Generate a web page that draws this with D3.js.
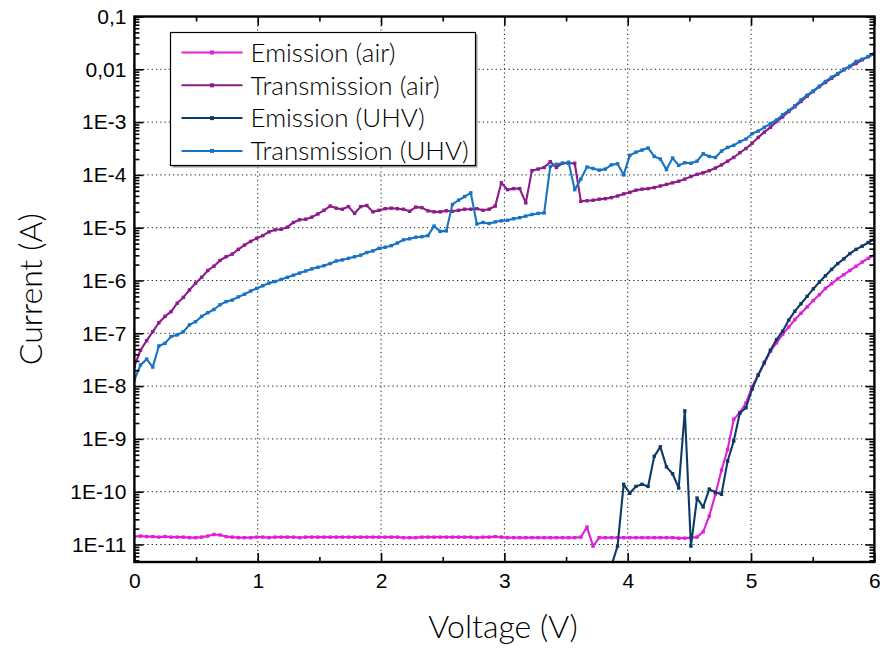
<!DOCTYPE html>
<html>
<head>
<meta charset="utf-8">
<script src="https://cdn.jsdelivr.net/npm/d3@7"></script>
<style>
  body { margin: 0; background: #fff; }
  svg { display: block; font-family: Lato, "Open Sans", sans-serif; font-weight: 300; }
</style>
</head>
<body>
<div id="chart"></div>
<script>
// sweep: one point per step, starting at 0 V
const voltageStep = 6 / 121

// currents given as log10(I / A)
const emissionAir = [
  -10.85,-10.84,-10.85,-10.85,-10.86,-10.85,-10.86,-10.86,-10.86,-10.87,
  -10.87,-10.86,-10.84,-10.81,-10.82,-10.85,-10.86,-10.87,-10.87,-10.87,
  -10.86,-10.86,-10.87,-10.86,-10.86,-10.86,-10.86,-10.87,-10.86,-10.86,
  -10.86,-10.86,-10.86,-10.86,-10.86,-10.86,-10.86,-10.86,-10.86,-10.86,
  -10.86,-10.86,-10.86,-10.86,-10.87,-10.87,-10.87,-10.86,-10.86,-10.86,
  -10.86,-10.86,-10.86,-10.86,-10.86,-10.86,-10.87,-10.86,-10.86,-10.85,
  -10.86,-10.87,-10.87,-10.87,-10.87,-10.87,-10.87,-10.87,-10.87,-10.87,
  -10.87,-10.87,-10.87,-10.86,-10.67,-11.03,-10.87,-10.87,-10.87,-10.87,
  -10.87,-10.87,-10.87,-10.87,-10.87,-10.87,-10.87,-10.87,-10.87,-10.88,
  -10.88,-10.87,-10.86,-10.76,-10.46,-10.05,-9.59,-9.20,-8.63,-8.50,
  -8.32,-8.01,-7.79,-7.57,-7.34,-7.18,-7.02,-6.88,-6.74,-6.62,
  -6.50,-6.38,-6.27,-6.15,-6.06,-5.97,-5.89,-5.81,-5.73,-5.65,
  -5.58,-5.52
]
const transmissionAir = [
  -7.62,-7.32,-7.14,-6.97,-6.80,-6.68,-6.59,-6.43,-6.32,-6.18,
  -6.05,-5.94,-5.81,-5.73,-5.62,-5.55,-5.50,-5.41,-5.33,-5.26,
  -5.20,-5.15,-5.08,-5.04,-5.03,-4.99,-4.90,-4.85,-4.84,-4.80,
  -4.74,-4.67,-4.59,-4.63,-4.65,-4.60,-4.73,-4.60,-4.58,-4.70,
  -4.67,-4.64,-4.63,-4.64,-4.65,-4.69,-4.61,-4.62,-4.68,-4.70,
  -4.70,-4.68,-4.69,-4.67,-4.65,-4.65,-4.64,-4.67,-4.65,-4.59,
  -4.15,-4.28,-4.26,-4.26,-4.53,-3.92,-3.89,-3.86,-3.75,-3.86,
  -3.78,-3.78,-3.78,-4.50,-4.49,-4.48,-4.46,-4.45,-4.43,-4.40,
  -4.36,-4.33,-4.29,-4.27,-4.26,-4.24,-4.21,-4.18,-4.15,-4.12,
  -4.08,-4.03,-3.99,-3.96,-3.92,-3.87,-3.81,-3.74,-3.67,-3.58,
  -3.50,-3.40,-3.29,-3.19,-3.10,-2.99,-2.90,-2.80,-2.71,-2.61,
  -2.51,-2.42,-2.33,-2.25,-2.17,-2.09,-2.01,-1.95,-1.89,-1.82,
  -1.76,-1.71
]
// UHV emission is below the axis until ~3.8 V
const emissionUhvStart = 77
const emissionUhv = [
  -12.5,-11.4,-11.03,-9.86,-10.03,-9.90,-9.86,-9.90,-9.33,-9.15,
  -9.53,-9.66,-9.93,-8.47,-11.03,-10.12,-10.29,-9.95,-10.01,-10.05,
  -9.42,-9.04,-8.51,-8.41,-8.06,-7.79,-7.55,-7.32,-7.12,-6.96,
  -6.75,-6.58,-6.44,-6.30,-6.16,-6.03,-5.91,-5.79,-5.68,-5.59,
  -5.49,-5.41,-5.35,-5.28,-5.22
]
const transmissionUhv = [
  -7.88,-7.60,-7.49,-7.64,-7.24,-7.19,-7.06,-7.03,-6.97,-6.84,
  -6.78,-6.68,-6.61,-6.55,-6.46,-6.40,-6.37,-6.31,-6.26,-6.20,
  -6.15,-6.10,-6.05,-6.02,-5.98,-5.94,-5.90,-5.86,-5.82,-5.78,
  -5.75,-5.72,-5.68,-5.63,-5.61,-5.58,-5.55,-5.52,-5.47,-5.44,
  -5.39,-5.37,-5.34,-5.29,-5.23,-5.21,-5.18,-5.17,-5.15,-4.97,
  -5.07,-5.06,-4.56,-4.48,-4.41,-4.34,-4.93,-4.90,-4.92,-4.89,
  -4.87,-4.86,-4.83,-4.81,-4.78,-4.75,-4.73,-4.72,-3.84,-3.80,
  -3.78,-3.76,-4.28,-4.08,-3.85,-3.88,-3.91,-3.89,-3.81,-3.79,
  -4.00,-3.63,-3.57,-3.53,-3.49,-3.65,-3.70,-3.90,-3.68,-3.82,
  -3.77,-3.78,-3.74,-3.60,-3.65,-3.67,-3.55,-3.48,-3.44,-3.37,
  -3.32,-3.22,-3.17,-3.10,-3.03,-2.96,-2.86,-2.78,-2.69,-2.58,
  -2.49,-2.41,-2.32,-2.23,-2.15,-2.08,-2.00,-1.94,-1.85,-1.81,
  -1.76,-1.71
]

const seriesNames = ["Emission (air)", "Transmission (air)", "Emission (UHV)", "Transmission (UHV)"]
const seriesColors = ["#e020d8", "#8c1b8c", "#0e3b66", "#1773c4"]

const xTicks = [0, 1, 2, 3, 4, 5, 6]
const xMinorTicks = [0.5, 1.5, 2.5, 3.5, 4.5, 5.5]
const yTicks = [1e-11, 1e-10, 1e-9, 1e-8, 1e-7, 1e-6, 1e-5, 1e-4, 1e-3, 0.01, 0.1]
const yTickLabels = ["1E-11", "1E-10", "1E-9", "1E-8", "1E-7", "1E-6", "1E-5", "1E-4", "1E-3", "0,01", "0,1"]

const width = 880
const height = 648
const plotLeft = 134.4, plotRight = 874.4, plotTop = 16.5, plotBottom = 562
const decadePx = 52.8

const x = d3.scaleLinear([0, 6], [plotLeft, plotRight])
const yMin = Math.pow(10, -11 - (plotBottom - plotTop - 10 * decadePx) / decadePx)
const y = d3.scaleLog([yMin, 0.1], [plotBottom, plotTop])

const yMinorTicks = []
for (let e = -12; e <= -2; e++) {
  for (let m = 2; m <= 9; m++) {
    const v = m * Math.pow(10, e)
    if (v >= yMin && v <= 0.1) yMinorTicks.push(v)
  }
}

const series = [
  {values: emissionAir, start: 0},
  {values: transmissionAir, start: 0},
  {values: emissionUhv, start: emissionUhvStart},
  {values: transmissionUhv, start: 0}
].map((s, i) => ({
  name: seriesNames[i],
  color: seriesColors[i],
  points: s.values.map((e, k) => ({v: (s.start + k) * voltageStep, i: Math.pow(10, e)}))
}))

const svg = d3.select("#chart").append("svg")
  .attr("width", width)
  .attr("height", height)
  .attr("viewBox", [0, 0, width, height])

svg.append("defs").append("clipPath")
  .attr("id", "plot-clip")
  .append("rect")
  .attr("x", plotLeft).attr("y", plotTop)
  .attr("width", plotRight - plotLeft).attr("height", plotBottom - plotTop)

// dotted grid
const grid = svg.append("g")
  .attr("stroke", "#222")
  .attr("stroke-width", 1)
  .attr("stroke-dasharray", "1.3 3")
grid.selectAll("line.gx")
  .data(xTicks.slice(1, -1))
  .join("line")
  .attr("class", "gx")
  .attr("x1", d => x(d)).attr("x2", d => x(d))
  .attr("y1", plotTop).attr("y2", plotBottom)
grid.selectAll("line.gy")
  .data(yTicks.slice(0, -1))
  .join("line")
  .attr("class", "gy")
  .attr("x1", plotLeft).attr("x2", plotRight)
  .attr("y1", d => y(d)).attr("y2", d => y(d))

// curves
const line = d3.line()
  .x(d => x(d.v))
  .y(d => y(d.i))

const plot = svg.append("g").attr("clip-path", "url(#plot-clip)")
series.forEach(s => {
  const g = plot.append("g")
  g.append("path")
    .datum(s.points)
    .attr("fill", "none")
    .attr("stroke", s.color)
    .attr("stroke-width", 2.1)
    .attr("stroke-linejoin", "round")
    .attr("d", line)
  g.selectAll("rect")
    .data(s.points)
    .join("rect")
    .attr("x", d => x(d.v) - 1.7)
    .attr("y", d => y(d.i) - 1.7)
    .attr("width", 3.4)
    .attr("height", 3.4)
    .attr("fill", s.color)
})

// axes, ticks pointing inward
const styleAxis = g => g.call(g => g.select(".domain").remove())
  .call(g => g.selectAll(".tick line").attr("stroke", "#000").attr("stroke-width", 1.6))

svg.append("g")
  .attr("transform", `translate(0,${plotBottom})`)
  .call(d3.axisBottom(x).tickValues(xTicks).tickSizeInner(-9).tickSizeOuter(0).tickPadding(11).tickFormat(d3.format("d")))
  .call(styleAxis)
  .call(g => g.selectAll(".tick text").attr("font-size", 21).attr("fill", "#000").attr("font-family", null))
svg.append("g")
  .attr("transform", `translate(0,${plotBottom})`)
  .call(d3.axisBottom(x).tickValues(xMinorTicks).tickSize(-5).tickFormat(""))
  .call(styleAxis)
svg.append("g")
  .attr("transform", `translate(0,${plotTop})`)
  .call(d3.axisTop(x).tickValues(xTicks).tickSize(-9).tickFormat(""))
  .call(styleAxis)
svg.append("g")
  .attr("transform", `translate(0,${plotTop})`)
  .call(d3.axisTop(x).tickValues(xMinorTicks).tickSize(-5).tickFormat(""))
  .call(styleAxis)

svg.append("g")
  .attr("transform", `translate(${plotLeft},0)`)
  .call(d3.axisLeft(y).tickValues(yTicks).tickSizeInner(-9).tickSizeOuter(0).tickPadding(8)
    .tickFormat((d, i) => yTickLabels[i]))
  .call(styleAxis)
  .call(g => g.selectAll(".tick text").attr("font-size", 21).attr("fill", "#000").attr("font-family", null))
svg.append("g")
  .attr("transform", `translate(${plotLeft},0)`)
  .call(d3.axisLeft(y).tickValues(yMinorTicks).tickSize(-5).tickFormat(""))
  .call(styleAxis)
svg.append("g")
  .attr("transform", `translate(${plotRight},0)`)
  .call(d3.axisRight(y).tickValues(yTicks).tickSize(-9).tickFormat(""))
  .call(styleAxis)
svg.append("g")
  .attr("transform", `translate(${plotRight},0)`)
  .call(d3.axisRight(y).tickValues(yMinorTicks).tickSize(-5).tickFormat(""))
  .call(styleAxis)

// frame
svg.append("rect")
  .attr("x", plotLeft).attr("y", plotTop)
  .attr("width", plotRight - plotLeft).attr("height", plotBottom - plotTop)
  .attr("fill", "none")
  .attr("stroke", "#000")
  .attr("stroke-width", 2.4)

// axis titles
svg.append("text")
  .attr("x", 503)
  .attr("y", 638)
  .attr("text-anchor", "middle")
  .attr("font-size", 32)
  .attr("fill", "#000")
  .text("Voltage (V)")
svg.append("text")
  .attr("transform", `translate(42,${(plotTop + plotBottom) / 2}) rotate(-90)`)
  .attr("text-anchor", "middle")
  .attr("font-size", 32)
  .attr("fill", "#000")
  .text("Current (A)")

// legend
const legend = svg.append("g").attr("transform", "translate(170.5,32.5)")
legend.append("rect")
  .attr("x", 2).attr("y", 2)
  .attr("width", 305).attr("height", 133)
  .attr("fill", "#999")
legend.append("rect")
  .attr("width", 305).attr("height", 133)
  .attr("fill", "#fff")
  .attr("stroke", "#000")
  .attr("stroke-width", 1.2)
const item = legend.selectAll("g.item")
  .data(series)
  .join("g")
  .attr("class", "item")
  .attr("transform", (d, i) => `translate(0,${20 + i * 32.8})`)
item.append("line")
  .attr("x1", 11).attr("x2", 72)
  .attr("stroke", d => d.color)
  .attr("stroke-width", 2)
item.append("rect")
  .attr("x", 39.5).attr("y", -2)
  .attr("width", 4).attr("height", 4)
  .attr("fill", d => d.color)
item.append("text")
  .attr("x", 80)
  .attr("dy", "0.36em")
  .attr("font-size", 26)
  .attr("fill", "#000")
  .text(d => d.name)
</script>
</body>
</html>
